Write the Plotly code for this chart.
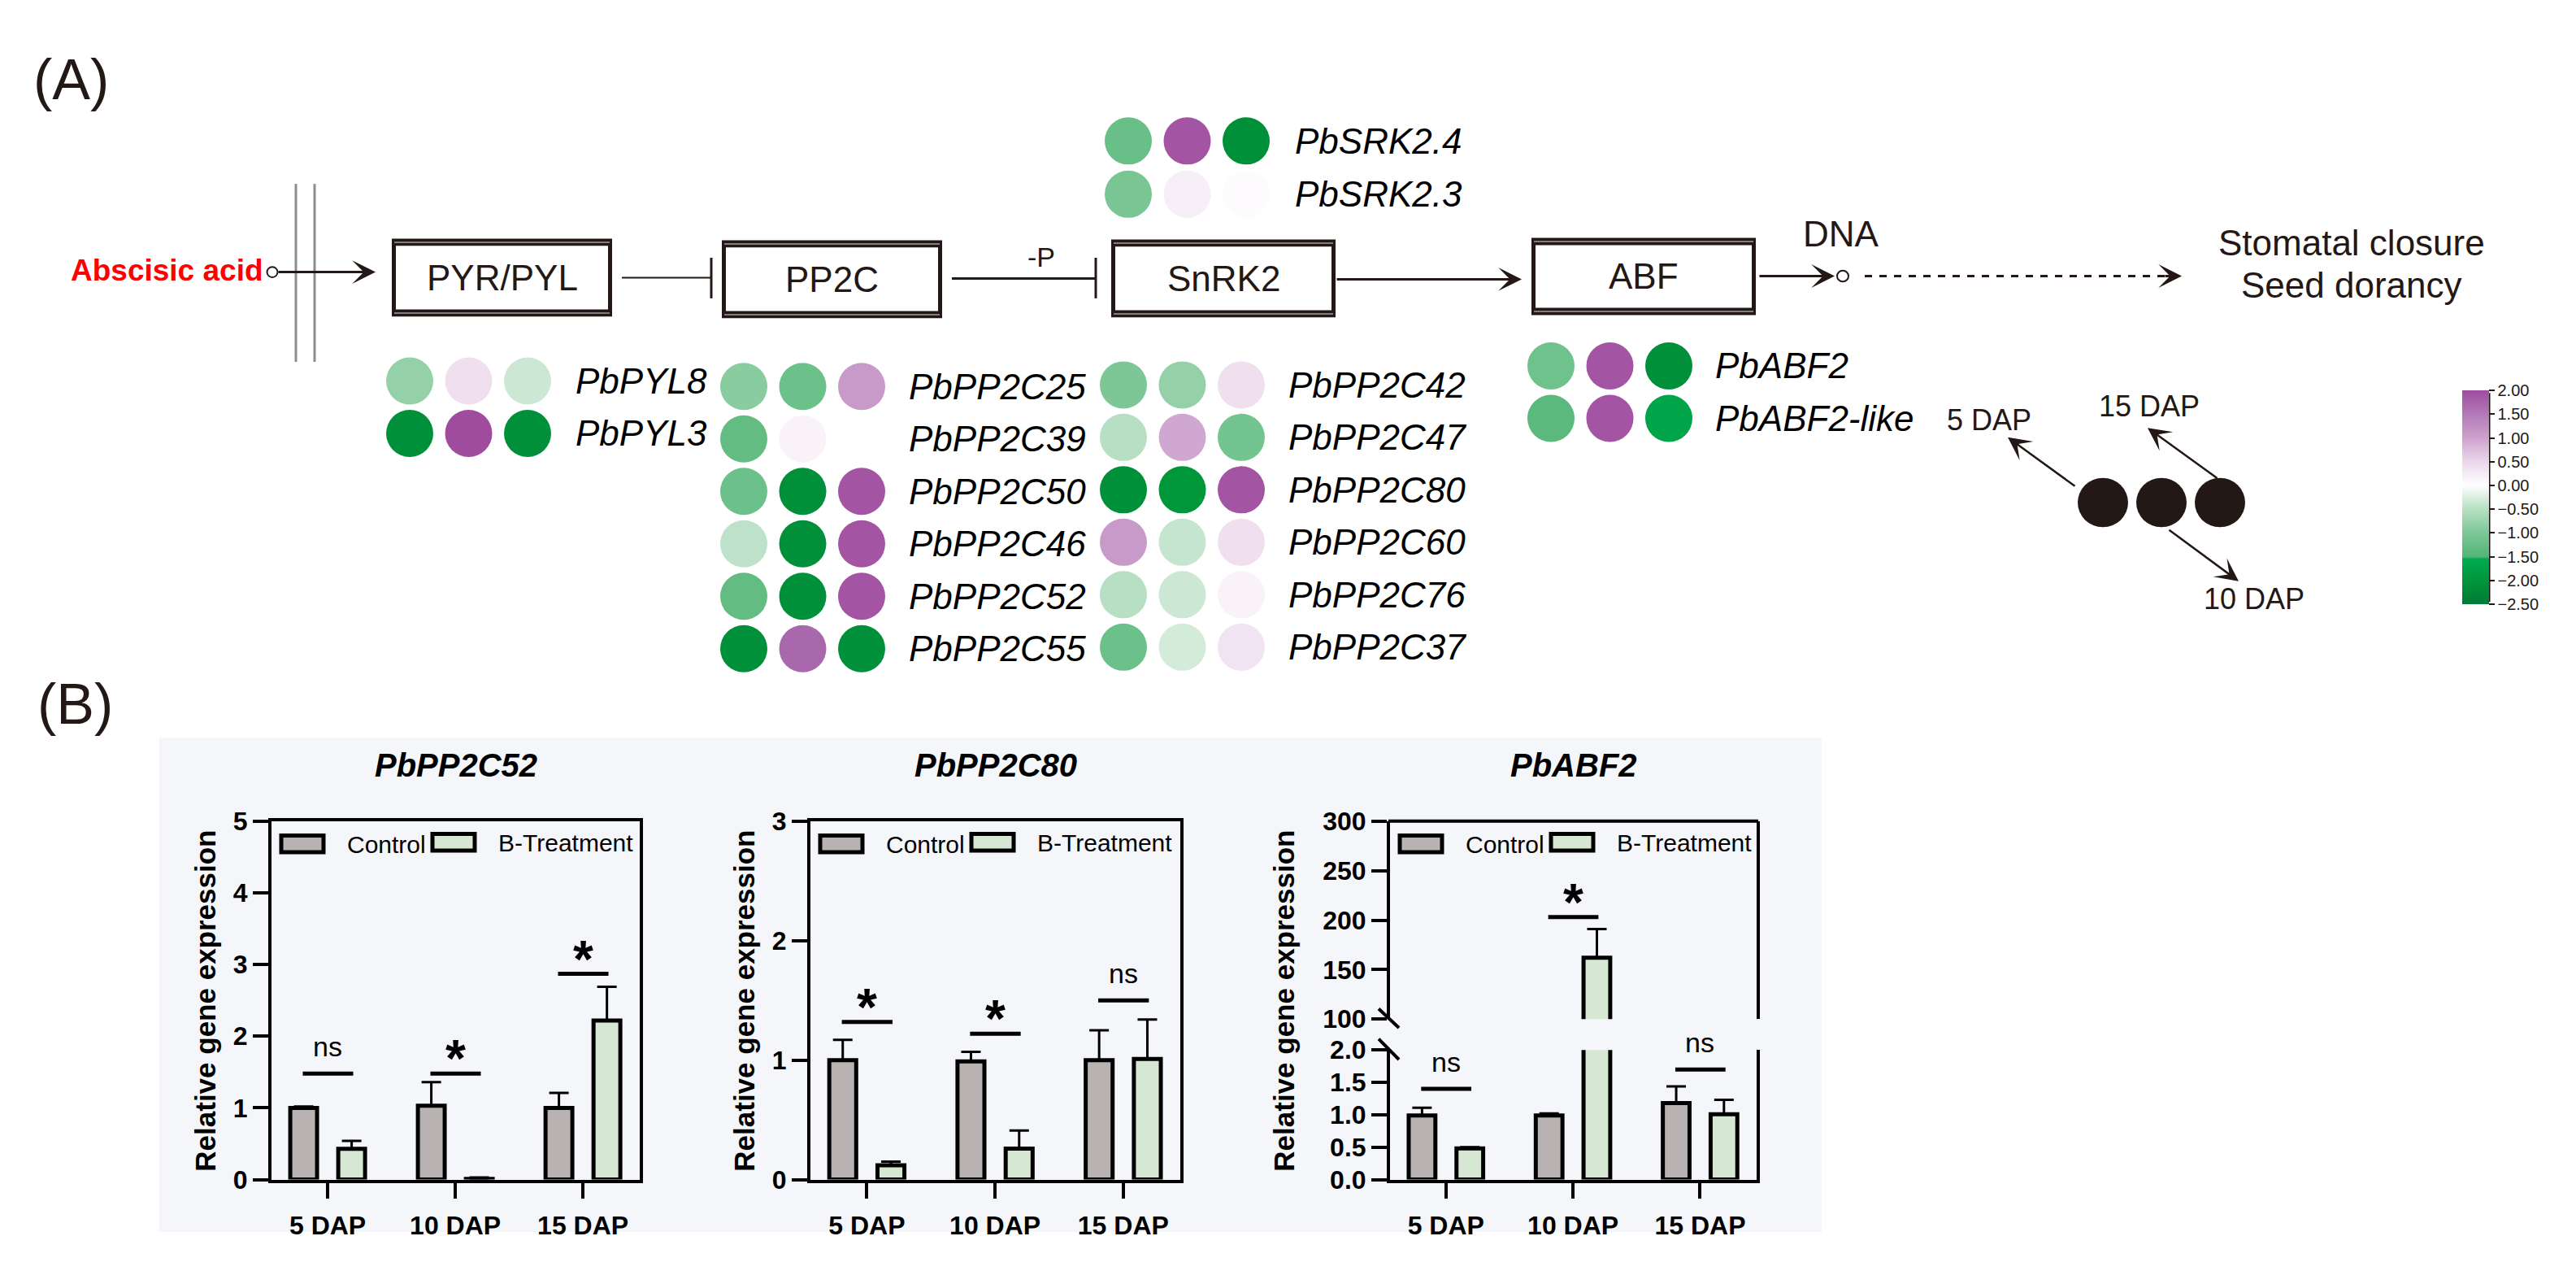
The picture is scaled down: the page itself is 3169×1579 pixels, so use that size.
import plotly.graph_objects as go

W, H = 3169, 1579
FONT = "Arial, 'Liberation Sans', Helvetica, sans-serif"
INK = "#231815"

# ---------------- data ----------------
days = ["5 DAP", "10 DAP", "15 DAP"]

pp2c52_ctrl = [1.00, 1.03, 1.00]
pp2c52_ctrl_err = [0.02, 0.33, 0.21]
pp2c52_trt = [0.43, 0.01, 2.22]
pp2c52_trt_err = [0.11, 0.02, 0.47]
pp2c52_sig_h = [1.48, 1.48, 2.87]
pp2c52_sig = ["ns", "*", "*"]

pp2c80_ctrl = [1.00, 0.99, 1.00]
pp2c80_ctrl_err = [0.17, 0.08, 0.25]
pp2c80_trt = [0.12, 0.26, 1.01]
pp2c80_trt_err = [0.03, 0.15, 0.33]
pp2c80_sig_h = [1.32, 1.22, 1.50]
pp2c80_sig = ["*", "*", "ns"]

abf2_ctrl = [0.99, 0.99, 1.18]
abf2_ctrl_err = [0.12, 0.03, 0.26]
abf2_trt = [0.48, 162.0, 1.01]
abf2_trt_err = [0.02, 29.0, 0.22]
abf2_sig_h = [1.40, 203.0, 1.70]
abf2_sig = ["ns", "*", "ns"]

pyl_genes = ["PbPYL8", "PbPYL3"]
pyl_vals = [[-0.80, 0.40, -0.35], [-2.10, 2.00, -2.10]]

pp2c_a_genes = ["PbPP2C25", "PbPP2C39", "PbPP2C50", "PbPP2C46", "PbPP2C52", "PbPP2C55"]
pp2c_a_vals = [[-0.90, -1.20, 1.10], [-1.30, 0.15, 0.00], [-1.20, -2.10, 1.90],
               [-0.45, -2.10, 1.90], [-1.30, -2.10, 1.90], [-2.10, 1.70, -2.10]]

pp2c_b_genes = ["PbPP2C42", "PbPP2C47", "PbPP2C80", "PbPP2C60", "PbPP2C76", "PbPP2C37"]
pp2c_b_vals = [[-1.00, -0.80, 0.40], [-0.50, 0.95, -1.10], [-2.10, -2.00, 1.90],
               [1.10, -0.40, 0.40], [-0.50, -0.35, 0.15], [-1.20, -0.30, 0.35]]

srk_genes = ["PbSRK2.4", "PbSRK2.3"]
srk_vals = [[-1.25, 1.90, -2.10], [-1.05, 0.20, 0.05]]

abf_genes = ["PbABF2", "PbABF2-like"]
abf_vals = [[-1.15, 1.90, -2.10], [-1.40, 1.90, -1.70]]

cbar_ticks = [-2.5, -2.0, -1.5, -1.0, -0.5, 0.0, 0.5, 1.0, 1.5, 2.0]

# ---------------- helpers ----------------
def px(x):
    return x / W

def py(y):
    return 1 - y / H

fig = go.Figure()
shapes = []
ann = []

def text(x, y, t, size, color=INK, xanchor="center", yanchor="middle", angle=0):
    ann.append(dict(x=px(x), y=py(y), xref="paper", yref="paper", text=t, showarrow=False,
                    xanchor=xanchor, yanchor=yanchor, textangle=angle,
                    font=dict(family=FONT, size=size, color=color)))

def line(x0, y0, x1, y1, w=3, color=INK, dash="solid"):
    shapes.append(dict(type="line", xref="paper", yref="paper", x0=px(x0), y0=py(y0),
                       x1=px(x1), y1=py(y1), line=dict(color=color, width=w, dash=dash)))

def rect(x0, y0, x1, y1, fill, lw=0, lc=INK, layer="above"):
    shapes.append(dict(type="rect", xref="paper", yref="paper", x0=px(x0), y0=py(y0),
                       x1=px(x1), y1=py(y1), fillcolor=fill, layer=layer,
                       line=dict(color=lc, width=lw)))

def circle(cx, cy, r, fill, lw=0):
    shapes.append(dict(type="circle", xref="paper", yref="paper", x0=px(cx - r), y0=py(cy + r),
                       x1=px(cx + r), y1=py(cy - r), fillcolor=fill,
                       line=dict(color=INK, width=lw)))

def arrow(tx, ty, sx, sy, w=3, size=1.6):
    ann.append(dict(x=px(tx), y=py(ty), xref="paper", yref="paper", text="", showarrow=True,
                    ax=sx - tx, ay=sy - ty, arrowhead=3, arrowsize=size, arrowwidth=w,
                    arrowcolor=INK, standoff=0, startstandoff=0))

# ---------------- panel (A): pathway ----------------
text(87, 82, "(A)", 70)
text(92, 868, "(B)", 70)

# membrane
line(364, 213, 364, 437, 3, "#8c8c8c")
line(387, 213, 387, 437, 3, "#8c8c8c")

text(326, 322, "<b>Abscisic acid</b>", 37, "#FF0000", xanchor="right")
arrow(462, 324, 341, 324)
circle(335, 324, 6.5, "white", 2)

def box(x0, y0, x1, y1, label):
    rect(x0, y0, x1, y1, INK)
    rect(x0 + 5, y0 + 9, x1 - 5, y1 - 9, "white")
    line(x0 + 3, y0 + 4.5, x1 - 3, y0 + 4.5, 1.5, "#a0a0a0")
    line(x0 + 3, y1 - 4.5, x1 - 3, y1 - 4.5, 1.5, "#a0a0a0")
    text((x0 + x1) / 2, (y0 + y1) / 2, label, 44)

box(482, 282, 753, 380, "PYR/PYL")
box(888, 284, 1159, 382, "PP2C")
box(1367, 283, 1643, 381, "SnRK2")
box(1884, 281, 2160, 378, "ABF")

# inhibition links
line(765, 331, 875, 331, 2)
line(875, 306, 875, 357, 3)
line(1171, 332, 1348, 332, 3)
line(1348, 306, 1348, 357, 3)
text(1281, 305, "-P", 34)

arrow(1872, 333, 1643, 333)
arrow(2257, 329, 2163, 329)
circle(2267, 329, 7, "white", 2)
line(2294, 329, 2668, 329, 3, INK, "dash")
arrow(2684, 329, 2662, 329)
text(2265, 276, "DNA", 44)
text(2893, 287, "Stomatal closure", 44)
text(2893, 340, "Seed dorancy", 44)

# DAP key
for cx in (2587, 2659, 2731):
    circle(cx, 614, 31, INK)
arrow(2470, 532, 2554, 593, 2.5, 1.9)
arrow(2642, 520, 2729, 583, 2.5, 1.9)
arrow(2754, 713, 2667, 649, 2.5, 1.9)
text(2447, 510, "5 DAP", 36)
text(2644, 493, "15 DAP", 36)
text(2773, 735, "10 DAP", 36)

# heat circles
groups = [
    (pyl_genes, pyl_vals, 504, 461, 706, 66),
    (pp2c_a_genes, pp2c_a_vals, 915, 468, 1116, 66),
    (pp2c_b_genes, pp2c_b_vals, 1382, 466, 1583, 66),
    (srk_genes, srk_vals, 1388, 159, 1591, 67),
    (abf_genes, abf_vals, 1908, 442, 2108, 66),
]
cx, cy, cv = [], [], []
for genes, vals, x0, y0, tx, dy in groups:
    for r, (g, row) in enumerate(zip(genes, vals)):
        for c, v in enumerate(row):
            cx.append(x0 + c * 72.5)
            cy.append(y0 + r * dy)
            cv.append(v)
        text(tx, y0 + r * dy, "<i>%s</i>" % g, 44, "black", xanchor="left")

def t(v):
    return (v + 2.5) / 4.5

cscale = [
    [t(-2.5), "#007A37"], [t(-2.0), "#00963A"], [t(-1.55), "#00AB50"],
    [t(-1.5), "#52B676"], [t(-1.0), "#7DC797"], [t(-0.5), "#B7DFC3"],
    [t(-0.15), "#E8F5EC"], [t(0.0), "#FFFFFF"], [t(0.5), "#EBD7EB"],
    [t(1.0), "#CDA2CE"], [t(1.5), "#B17AB6"], [t(2.0), "#A04C9E"],
]

fig.add_trace(go.Scatter(
    x=cx, y=cy, mode="markers", xaxis="x4", yaxis="y4", showlegend=False,
    hoverinfo="skip", cliponaxis=False,
    marker=dict(size=58, color=cv, colorscale=cscale, cmin=-2.5, cmax=2.0, line=dict(width=0),
                colorbar=dict(x=px(3029), xanchor="left", xpad=0, y=py(607.5), yanchor="middle",
                              len=263, lenmode="pixels", ypad=0, thickness=33,
                              thicknessmode="pixels", outlinewidth=0, tickvals=cbar_ticks,
                              tickformat=".2f", ticks="outside", ticklen=7, tickwidth=2,
                              tickcolor=INK, tickfont=dict(family=FONT, size=20, color=INK)))))
line(3062, 476, 3062, 739, 3)

# ---------------- panel (B): bar charts ----------------
rect(196, 910, 2241, 1532, "#F5F6FA", layer="below")

CTRL = "#B8B2B2"
TRT = "#D6E8D3"
BW = 0.21
OFF_C = -0.293
OFF_T = 0.083

def bars(ctrl, cerr, trt, terr, xa, ya):
    for vals, err, off, col in ((ctrl, cerr, OFF_C, CTRL), (trt, terr, OFF_T, TRT)):
        fig.add_trace(go.Bar(
            x=[0, 1, 2], y=vals, width=BW, offset=off, xaxis=xa, yaxis=ya, showlegend=False,
            marker=dict(color=col, line=dict(color="black", width=5)),
            error_y=dict(type="data", array=err, arrayminus=[0, 0, 0], symmetric=False,
                         thickness=3, width=12, color="black")))

tickfont = dict(family=FONT, size=32, color="black", weight="bold")
common_axis = dict(showline=True, linewidth=4, linecolor="black", ticks="outside", ticklen=19,
                   tickwidth=4, tickcolor="black", showgrid=False, zeroline=False,
                   tickfont=tickfont, fixedrange=True)

def xaxis(x0, x1, anchor, mirror=True):
    return dict(domain=[px(x0), px(x1)], range=[-0.44, 2.445], anchor=anchor,
                tickvals=[0, 1, 2], ticktext=days, mirror=mirror, ticklabelstandoff=6,
                **common_axis)

def yaxis(y0, y1, anchor, rng, tickvals, fmt):
    return dict(domain=[py(y0), py(y1)], range=rng, anchor=anchor, tickvals=tickvals,
                tickformat=fmt, mirror=True, **common_axis)

layout_axes = dict(
    xaxis=xaxis(334, 787, "y"),
    yaxis=yaxis(1466, 1015, "x", [0, 5], [0, 1, 2, 3, 4, 5], "d"),
    xaxis2=xaxis(997, 1452, "y2"),
    yaxis2=yaxis(1466, 1015, "x2", [0, 3], [0, 1, 2, 3], "d"),
    xaxis3=xaxis(1710, 2161, "y3", mirror=False),
    yaxis3=yaxis(1466, 1303, "x3", [0, 2.0], [0, 0.5, 1.0, 1.5, 2.0], ".1f"),
    yaxis5=yaxis(1264, 1015, "x3", [100, 300], [100, 150, 200, 250, 300], "d"),
    xaxis4=dict(domain=[0, 1], range=[0, W], visible=False, fixedrange=True, anchor="y4"),
    yaxis4=dict(domain=[0, 1], range=[H, 0], visible=False, fixedrange=True, anchor="x4"),
)

bars(pp2c52_ctrl, pp2c52_ctrl_err, pp2c52_trt, pp2c52_trt_err, "x", "y")
bars(pp2c80_ctrl, pp2c80_ctrl_err, pp2c80_trt, pp2c80_trt_err, "x2", "y2")
bars(abf2_ctrl, abf2_ctrl_err, abf2_trt, abf2_trt_err, "x3", "y3")
bars(abf2_ctrl, abf2_ctrl_err, abf2_trt, abf2_trt_err, "x3", "y5")

# top frame line of broken-axis chart
line(1708, 1015, 2163, 1015, 4, "black")
# axis break marks
line(1696, 1251, 1721, 1275, 4, "black")
line(1696, 1289, 1721, 1315, 4, "black")

def sig(heights, labels, xa, ya_fn):
    for i, (h, lab) in enumerate(zip(heights, labels)):
        ya = ya_fn(h)
        shapes.append(dict(type="line", xref=xa, yref=ya, x0=i - 0.195, x1=i + 0.2, y0=h, y1=h,
                           line=dict(color="black", width=5)))
        if lab == "*":
            ann.append(dict(x=i, y=h, xref=xa, yref=ya, text="<b>*</b>", showarrow=False,
                            yanchor="middle", yshift=18,
                            font=dict(family=FONT, size=64, color="black")))
        else:
            ann.append(dict(x=i, y=h, xref=xa, yref=ya, text=lab, showarrow=False,
                            yanchor="middle", yshift=33,
                            font=dict(family=FONT, size=34, color="black")))

sig(pp2c52_sig_h, pp2c52_sig, "x", lambda h: "y")
sig(pp2c80_sig_h, pp2c80_sig, "x2", lambda h: "y2")
sig(abf2_sig_h, abf2_sig, "x3", lambda h: "y5" if h > 2 else "y3")

titles = [("PbPP2C52", 334, 787, 253), ("PbPP2C80", 997, 1452, 916), ("PbABF2", 1710, 2161, 1580)]
for name, x0, x1, ytx in titles:
    text((x0 + x1) / 2, 945, "<b><i>%s</i></b>" % name, 40, "black")
    text(ytx, 1241, "<b>Relative gene expression</b>", 35, "black", angle=-90)
    # legend
    rect(x0 + 12, 1033, x0 + 64, 1054, CTRL, 5, "black")
    text(x0 + 91, 1044, "Control", 30, "black", xanchor="left")
    rect(x0 + 198, 1031, x0 + 250, 1052, TRT, 5, "black")
    text(x0 + 277, 1042, "B-Treatment", 30, "black", xanchor="left")

fig.update_layout(
    width=W, height=H, margin=dict(l=0, r=0, t=0, b=0, pad=0),
    paper_bgcolor="white", plot_bgcolor="rgba(0,0,0,0)", showlegend=False,
    shapes=shapes, annotations=ann, font=dict(family=FONT, color=INK),
    barmode="overlay", **layout_axes)

fig.write_html("out.html", config={"displayModeBar": False},
               post_script="document.body.style.margin='0';")
